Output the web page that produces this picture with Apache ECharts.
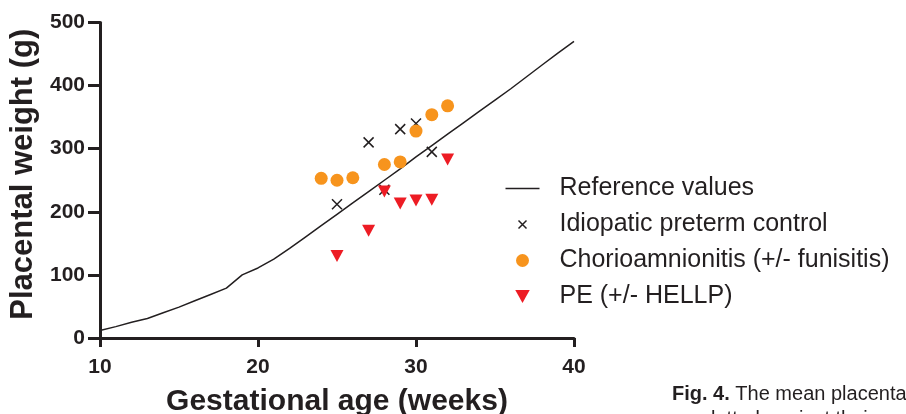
<!DOCTYPE html>
<html>
<head>
<meta charset="utf-8">
<script src="https://cdn.jsdelivr.net/npm/echarts@6/dist/echarts.min.js"></script>
<style>
html,body{margin:0;padding:0;background:#fff;}
#chart{width:906px;height:414px;}
</style>
</head>
<body>
<div id="chart"></div>
<script>
// Reference curve
var refWeeks   = [10,11,12,13,14,15,16,17,18,19,20,21,22,23,24,25,26,27,28,29,30,31,32,33,34,35,36,37,38,39,40];
var refWeights = [12,18,25,31,40,49,59,69,79,100,111,125,142,160,178,196,214,232,250,268,287,305,323,341,359,377,395,414,433,452,470];
// Idiopathic preterm control
var idioWeeks   = [25,27,28,29,30,31];
var idioWeights = [212,310,235,331,340,295];
// Chorioamnionitis
var chorioWeeks   = [24,25,26,28,29,30,31,32];
var chorioWeights = [253,250,254,275,279,328,354,368];
// PE
var peWeeks   = [25,27,28,29,30,31,32];
var peWeights = [130,170,232,213,218,219,283];

var xTicks = [10,20,30,40];
var yTicks = [0,100,200,300,400,500];

var seriesNames = ['Reference values','Idiopatic preterm control','Chorioamnionitis (+/- funisitis)','PE (+/- HELLP)'];
var captionBold = 'Fig. 4.';
var captionText = ' The mean placental';
var captionLine2 = 'were plotted against their';

function pairs(xs, ys){ return xs.map(function(x,i){return [x, ys[i]];}); }

var FONT = "'Liberation Sans', Arial, sans-serif";
var INK = '#231f20';
var crossPath = 'path://M0,0L10,10M10,0L0,10';
// legend icons: invisible move-to points pad the bounding box
var legendLinePath = 'path://M0,0M0,6L34,6M34,12';
var legendCrossPath = 'path://M0,0M2.5,2.5L10.5,10.5M10.5,2.5L2.5,10.5M13,13';

var chart = echarts.init(document.getElementById('chart'), null, {renderer:'canvas'});
chart.setOption({
  animation:false,
  backgroundColor:'#fff',
  grid:{left:100, right:332, top:22.5, bottom:76, containLabel:false, outerBoundsMode:'none'},
  xAxis:{
    type:'value', min:xTicks[0], max:xTicks[xTicks.length-1], interval:10,
    name:'Gestational age (weeks)', nameLocation:'middle', nameGap:49,
    nameTextStyle:{fontFamily:FONT, fontWeight:'bold', fontSize:30, color:INK},
    axisLine:{show:true, onZero:false, lineStyle:{color:INK, width:3}},
    axisTick:{show:true, length:9, lineStyle:{color:INK, width:3}},
    axisLabel:{fontFamily:FONT, fontWeight:'bold', fontSize:21, color:INK, margin:19},
    splitLine:{show:false}
  },
  yAxis:{
    type:'value', min:yTicks[0], max:yTicks[yTicks.length-1], interval:100,
    name:'Placental weight (g)', nameLocation:'middle', nameGap:51,
    nameTextStyle:{fontFamily:FONT, fontWeight:'bold', fontSize:31, color:INK, padding:[0,0,0,12]},
    axisLine:{show:true, onZero:false, lineStyle:{color:INK, width:3}},
    axisTick:{show:true, length:12, lineStyle:{color:INK, width:3}},
    axisLabel:{fontFamily:FONT, fontWeight:'bold', fontSize:21, color:INK, margin:15},
    splitLine:{show:false}
  },
  legend:{
    orient:'vertical', left:498, top:171,
    itemWidth:34, itemHeight:13, itemGap:11,
    formatter:function(name){ return '{s|}{t|' + name + '}'; },
    textStyle:{
      fontFamily:FONT, fontSize:25, color:INK,
      rich:{
        s:{width:15, height:26},
        t:{fontFamily:FONT, fontSize:25, color:INK, height:26}
      }
    },
    data:[
      {name:seriesNames[0], icon:legendLinePath, itemStyle:{color:'none', borderColor:INK, borderWidth:1.3}},
      {name:seriesNames[1], icon:legendCrossPath, itemStyle:{color:'none', borderColor:INK, borderWidth:1.5}},
      {name:seriesNames[2]},
      {name:seriesNames[3]}
    ]
  },
  series:[
    {name:seriesNames[0], type:'line', data:pairs(refWeeks, refWeights), showSymbol:false, symbol:'none',
     lineStyle:{color:INK, width:1.5}, itemStyle:{color:INK}, z:1},
    {name:seriesNames[1], type:'scatter', data:pairs(idioWeeks, idioWeights), symbol:crossPath, symbolSize:10,
     itemStyle:{color:'none', borderColor:INK, borderWidth:1.5, opacity:1}, z:2},
    {name:seriesNames[2], type:'scatter', data:pairs(chorioWeeks, chorioWeights), symbol:'circle', symbolSize:13,
     itemStyle:{color:'#F7941D', opacity:1}, z:3},
    {name:seriesNames[3], type:'scatter', data:pairs(peWeeks, peWeights), symbol:'path://M0,0L10,0L5,9Z', symbolSize:[13,12],
     itemStyle:{color:'#ED1C24', opacity:1}, z:4}
  ],
  graphic:[
    {type:'text', left:672, top:384, style:{
      rich:{b:{fontFamily:FONT, fontWeight:'bold', fontSize:20, fill:INK}, n:{fontFamily:FONT, fontSize:20, fill:INK}},
      text:'{b|'+captionBold+'}{n|'+captionText+'}'
    }},
    {type:'text', left:651, top:409, style:{fontFamily:FONT, fontSize:20, fill:INK, text:captionLine2}}
  ]
});
</script>
</body>
</html>
